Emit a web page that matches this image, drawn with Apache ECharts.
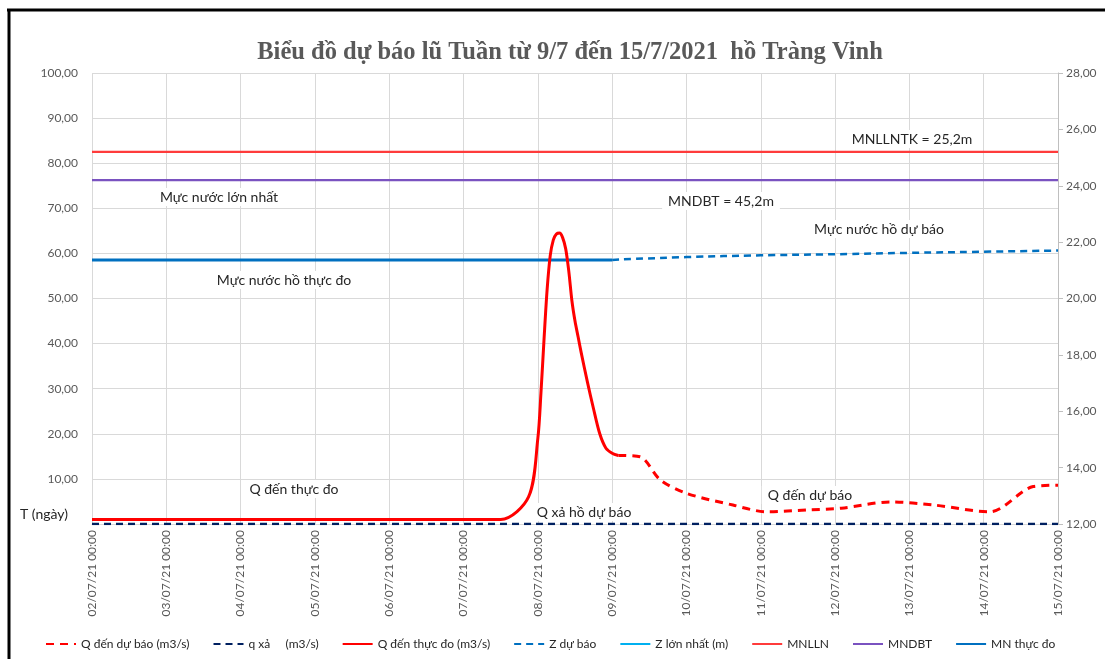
<!DOCTYPE html>
<html>
<head>
<meta charset="utf-8">
<script src="https://cdn.jsdelivr.net/npm/echarts@6/dist/echarts.min.js"></script>
<style>
  html, body { margin: 0; padding: 0; background: #fff; }
  #chart { width: 1105px; height: 659px; }
</style>
</head>
<body>
<div id="chart"></div>
<script>
// ngày bắt đầu trục hoành
const startDay = '2021-07-02 00:00';
const dayCount = 13;

// Q đến thực đo (m3/s)
const qThucDoTime = ['2021-07-02 00:00', '2021-07-07 12:00', '2021-07-07 21:00', '2021-07-08 00:00', '2021-07-08 01:00',
  '2021-07-08 02:00', '2021-07-08 03:00', '2021-07-08 04:00', '2021-07-08 05:00', '2021-07-08 06:00', '2021-07-08 07:00',
  '2021-07-08 08:00', '2021-07-08 09:00', '2021-07-08 10:00', '2021-07-08 11:00', '2021-07-08 12:00', '2021-07-08 13:00',
  '2021-07-08 14:00', '2021-07-08 16:00', '2021-07-08 18:00', '2021-07-08 20:00', '2021-07-08 22:00', '2021-07-09 00:00',
  '2021-07-09 02:00'];
const qThucDo = [1.0, 1.0, 6.0, 19, 29, 41, 52, 59.5, 63, 64.3, 64.5, 63.5, 61, 56, 49.5, 45, 41.5, 38, 31.5, 25.5, 20, 16.8, 15.7, 15.2];

// Q đến dự báo (m3/s)
const qDuBaoTime = ['2021-07-09 02:00', '2021-07-09 09:00', '2021-07-09 15:30', '2021-07-10 00:00', '2021-07-10 15:00',
  '2021-07-11 02:00', '2021-07-11 15:00', '2021-07-12 02:00', '2021-07-12 18:00', '2021-07-13 08:00',
  '2021-07-14 02:00', '2021-07-14 16:00', '2021-07-15 00:00'];
const qDuBao = [15.2, 14.9, 9.8, 6.8, 4.2, 2.7, 3.1, 3.5, 4.9, 4.2, 2.7, 8.3, 8.6];

// q xả (m3/s)
const qXaTime = ['2021-07-02 00:00', '2021-07-15 00:00'];
const qXa = [0, 0];

// Z dự báo (m)
const zDuBaoTime = ['2021-07-09 00:00', '2021-07-10 00:00', '2021-07-11 00:00', '2021-07-12 00:00',
  '2021-07-13 00:00', '2021-07-14 00:00', '2021-07-15 00:00'];
const zDuBao = [21.37, 21.47, 21.53, 21.57, 21.62, 21.66, 21.70];

// MN thực đo (m)
const mnThucDoTime = ['2021-07-02 00:00', '2021-07-09 00:00'];
const mnThucDo = [21.37, 21.37];

// các mực nước đặc trưng (m)
const lineTime = ['2021-07-02 00:00', '2021-07-15 00:00'];
const mnlln = [25.2, 25.2];
const mndbt = [24.2, 24.2];

function toDay(s) {
  const p = s.split(/[- :]/).map(Number);
  const t = Date.UTC(p[0], p[1] - 1, p[2], p[3], p[4]);
  const q = startDay.split(/[- :]/).map(Number);
  return (t - Date.UTC(q[0], q[1] - 1, q[2], q[3], q[4])) / 86400000;
}
function pairs(times, vals) {
  return times.map((t, i) => [toDay(t), vals[i]]);
}
function pad(n) { return (n < 10 ? '0' : '') + n; }
function dayLabel(v) {
  const q = startDay.split(/[- :]/).map(Number);
  const d = new Date(Date.UTC(q[0], q[1] - 1, q[2]) + Math.round(v * 86400000));
  return pad(d.getUTCDate()) + '/' + pad(d.getUTCMonth() + 1) + '/' + String(d.getUTCFullYear()).slice(2) + ' ' +
    pad(d.getUTCHours()) + ':' + pad(d.getUTCMinutes());
}
const comma = v => v.toFixed(2).replace('.', ',');

const chart = echarts.init(document.getElementById('chart'));
const labelFont = 'Lato, "Open Sans", sans-serif';

// chữ chú thích trên biểu đồ
function note(text, x, y) {
  return {
    type: 'text', x: x, y: y, z: 10,
    style: {
      text: text, fill: '#262626', font: '14px ' + labelFont,
      align: 'center', verticalAlign: 'middle',
      backgroundColor: '#fff', padding: [2, 6]
    }
  };
}

const option = {
  animation: false,
  backgroundColor: '#fff',
  title: {
    text: 'Biểu đồ dự báo lũ Tuần từ 9/7 đến 15/7/2021  hồ Tràng Vinh',
    left: 565, top: 35, textAlign: 'center',
    textStyle: { fontFamily: '"Liberation Serif", serif', fontWeight: 'bold', fontSize: 24.5, color: '#595959' }
  },
  grid: { left: 92, right: 47, top: 73, bottom: 135 },
  legend: {
    bottom: 4, left: 40, itemWidth: 30, itemHeight: 8, itemGap: 23,
    itemStyle: { opacity: 0 },
    textStyle: { fontFamily: labelFont, fontSize: 12, color: '#262626' },
    data: ['Q đến dự báo (m3/s)', 'q xả     (m3/s)', 'Q đến thực đo (m3/s)', 'Z dự báo', 'Z lớn nhất (m)', 'MNLLN', 'MNDBT', 'MN thực đo']
  },
  xAxis: {
    type: 'value', min: 0, max: dayCount, interval: 1,
    axisLine: { show: true, lineStyle: { color: '#d9d9d9' } },
    axisTick: { show: false },
    splitLine: { show: true, lineStyle: { color: '#d9d9d9' } },
    axisLabel: { rotate: 90, margin: 6, formatter: dayLabel, color: '#595959', fontSize: 12, fontFamily: labelFont }
  },
  yAxis: [
    {
      type: 'value', min: 0, max: 100, interval: 10,
      axisLine: { show: false }, axisTick: { show: false },
      splitLine: { lineStyle: { color: '#d9d9d9' } },
      axisLabel: { formatter: v => v === 0 ? '' : comma(v), margin: 14, color: '#595959', fontSize: 12, fontFamily: labelFont }
    },
    {
      type: 'value', min: 12, max: 28, interval: 2, position: 'right',
      axisLine: { show: true, lineStyle: { color: '#bfbfbf' } },
      axisTick: { show: true, inside: false, length: 5, lineStyle: { color: '#bfbfbf' } },
      splitLine: { show: false },
      axisLabel: { formatter: comma, margin: 8, color: '#595959', fontSize: 12, fontFamily: labelFont }
    }
  ],
  series: [
    {
      name: 'MN thực đo', type: 'line', yAxisIndex: 1, symbol: 'none',
      data: pairs(mnThucDoTime, mnThucDo),
      lineStyle: { color: '#0070c0', width: 3 }, itemStyle: { color: '#0070c0' }
    },
    {
      name: 'Z dự báo', type: 'line', yAxisIndex: 1, symbol: 'none', smooth: true,
      data: pairs(zDuBaoTime, zDuBao),
      lineStyle: { color: '#0070c0', width: 2.5, type: [7, 5] }, itemStyle: { color: '#0070c0' }
    },
    {
      name: 'Z lớn nhất (m)', type: 'line', yAxisIndex: 1, symbol: 'none',
      data: [],
      lineStyle: { color: '#00b0f0', width: 1.5 }, itemStyle: { color: '#00b0f0' }
    },
    {
      name: 'MNLLN', type: 'line', yAxisIndex: 1, symbol: 'none',
      data: pairs(lineTime, mnlln),
      lineStyle: { color: '#ff3b3b', width: 2.2 }, itemStyle: { color: '#ff3b3b' }
    },
    {
      name: 'MNDBT', type: 'line', yAxisIndex: 1, symbol: 'none',
      data: pairs(lineTime, mndbt),
      lineStyle: { color: '#7a52c0', width: 2.2 }, itemStyle: { color: '#7a52c0' }
    },
    {
      name: 'Q đến dự báo (m3/s)', type: 'line', symbol: 'none', smooth: 0.3,
      data: pairs(qDuBaoTime, qDuBao),
      lineStyle: { color: '#ff0000', width: 3, type: [8, 6] }, itemStyle: { color: '#ff0000' }
    },
    {
      name: 'q xả     (m3/s)', type: 'line', symbol: 'none',
      data: pairs(qXaTime, qXa),
      lineStyle: { color: '#002060', width: 2.5, type: [7, 5] }, itemStyle: { color: '#002060' }
    },
    {
      name: 'Q đến thực đo (m3/s)', type: 'line', symbol: 'none', smooth: 0.3,
      data: pairs(qThucDoTime, qThucDo),
      lineStyle: { color: '#ff0000', width: 3 }, itemStyle: { color: '#ff0000' }
    }
  ],
  graphic: [
    { type: 'line', shape: { x1: 7, y1: 10, x2: 1105, y2: 10 }, style: { stroke: '#000', lineWidth: 3 } },
    { type: 'line', shape: { x1: 9, y1: 9, x2: 9, y2: 659 }, style: { stroke: '#000', lineWidth: 3 } },
    note('MNLLNTK = 25,2m', 912, 139),
    note('Mực nước lớn nhất', 219, 197),
    note('MNDBT = 45,2m', 721, 201),
    note('Mực nước hồ dự báo', 879, 229),
    note('Mực nước hồ thực đo', 284, 280),
    note('Q đến thực đo', 294, 489),
    note('Q đến dự báo', 810, 495),
    note('Q xả hồ dự báo', 584, 512),
    note('T (ngày)', 44, 514)
  ]
};
chart.setOption(option);
</script>
</body>
</html>
